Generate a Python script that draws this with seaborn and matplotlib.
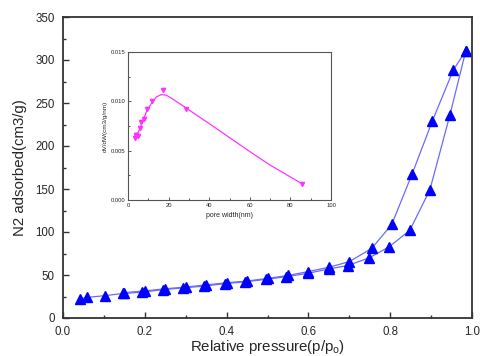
import matplotlib
matplotlib.use("Agg")
import matplotlib.pyplot as plt
import seaborn as sns
import pandas as pd
from matplotlib.ticker import MultipleLocator

# Main isotherm data
ads_p = [0.041, 0.059, 0.103, 0.146, 0.194, 0.245, 0.293, 0.344, 0.397, 0.444, 0.497,
         0.546, 0.599, 0.650, 0.696, 0.749, 0.798, 0.848, 0.897, 0.946, 0.985]
ads_v = [22, 24, 26, 28.5, 30, 33, 35, 37, 40, 42, 45,
         48, 52, 57, 61, 70, 83, 102, 149, 236, 311]
des_p = [0.985, 0.954, 0.903, 0.854, 0.804, 0.755, 0.700, 0.650, 0.600, 0.550, 0.500,
         0.450, 0.400, 0.350, 0.300, 0.250, 0.200, 0.150]
des_v = [311, 288, 229, 168, 109, 81, 65.5, 59, 54, 49.5, 46,
         43, 41, 38.5, 36, 34, 31.5, 29.5]

# Inset pore size distribution
pore_w = [3.3, 4.1, 4.9, 3.8, 5.8, 6.6, 7.7, 9.4, 12.0, 17.0, 28.5, 85.7]
pore_dv = [0.00624, 0.00657, 0.00647, 0.00655, 0.00725, 0.00792, 0.00826, 0.0092, 0.0100, 0.0111, 0.00924, 0.00165]
curve_w = [3.3, 5.77, 7.41, 9.39, 12.0, 14.0, 16.5, 18.9, 22.2, 28.5, 40.4, 60.1, 70.0, 85.7]
curve_dv = [0.00624, 0.00718, 0.00809, 0.0091, 0.00994, 0.01045, 0.01069, 0.01062, 0.01021,
            0.00934, 0.00769, 0.00489, 0.00354, 0.00165]

sns.set_style("ticks")
plt.rcParams['font.family'] = ['Liberation Sans', 'DejaVu Sans']
plt.rcParams['mathtext.fontset'] = 'custom'
plt.rcParams['mathtext.rm'] = 'Liberation Sans'
plt.rcParams['mathtext.it'] = 'Liberation Sans'
plt.rcParams['xtick.direction'] = 'in'
plt.rcParams['ytick.direction'] = 'in'

fig = plt.figure(figsize=(4.8, 3.56), dpi=100)
ax = fig.add_axes([63/480, 1-318/356, (472-63)/480, (318-17)/356])

line_c = '#6a6aff'
mark_c = '#0000ff'
sns.lineplot(x=ads_p, y=ads_v, sort=False, color=line_c, lw=0.9, ax=ax)
sns.lineplot(x=des_p, y=des_v, sort=False, color=line_c, lw=0.9, ax=ax)
ax.plot(ads_p, ads_v, ls='none', marker='^', ms=6.5, color=mark_c, mec=mark_c)
ax.plot(des_p, des_v, ls='none', marker='^', ms=6.5, color=mark_c, mec=mark_c)

ax.set_xlim(0, 1.0)
ax.set_ylim(0, 350)
ax.xaxis.set_major_locator(MultipleLocator(0.2))
ax.xaxis.set_minor_locator(MultipleLocator(0.1))
ax.yaxis.set_major_locator(MultipleLocator(50))
ax.yaxis.set_minor_locator(MultipleLocator(25))
ax.set_xticklabels([f"{v:.1f}" for v in ax.get_xticks()])
ax.tick_params(which='major', length=4, width=1, labelsize=8.3, color='#333333')
ax.tick_params(axis='x', which='major', pad=6)
ax.tick_params(axis='y', which='major', pad=6)
ax.tick_params(which='minor', length=2.5, width=1, color='#333333')
for s in ax.spines.values():
    s.set_linewidth(1.3)
    s.set_color('#333333')
ax.set_xlabel("Relative pressure(p/p$_\\mathrm{o}$)", fontsize=10.8, labelpad=0)
ax.set_ylabel("N2 adsorbed(cm3/g)", fontsize=10.8, labelpad=6)

# Inset
ins = fig.add_axes([128/480, 1-200/356, (331-128)/480, (200-52)/356])
pink = '#ff33ff'
sns.lineplot(x=curve_w, y=curve_dv, sort=False, color=pink, lw=0.9, ax=ins)
ins.plot(pore_w, pore_dv, ls='none', marker='v', ms=3, color=pink, mec=pink)
ins.set_xlim(0, 100)
ins.set_ylim(0, 0.015)
ins.xaxis.set_major_locator(MultipleLocator(20))
ins.xaxis.set_minor_locator(MultipleLocator(10))
ins.yaxis.set_major_locator(MultipleLocator(0.005))
ins.yaxis.set_minor_locator(MultipleLocator(0.0025))
ins.set_yticklabels([f"{v:.3f}" for v in ins.get_yticks()])
ins.tick_params(which='major', length=2.5, width=0.7, labelsize=4.2, color='#555555', pad=2)
ins.tick_params(which='minor', length=1.5, width=0.7, color='#555555')
for s in ins.spines.values():
    s.set_linewidth(0.8)
    s.set_color('#555555')
ins.set_xlabel("pore width(nm)", fontsize=5, labelpad=3)
ins.set_ylabel("dV/dW(cm3/g/nm)", fontsize=4.6, labelpad=2)

fig.savefig("out.png", dpi=100)
